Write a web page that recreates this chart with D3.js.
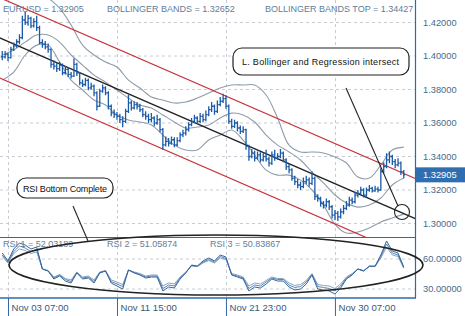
<!DOCTYPE html>
<html><head><meta charset="utf-8">
<script src="https://cdn.jsdelivr.net/npm/d3@7"></script>
<style>body{margin:0;background:#fff}svg{display:block;font-family:"Liberation Sans",Arial,sans-serif}</style>
</head><body><svg id="c" width="465" height="316"></svg>
<script>
// ---------- DATA ----------
const closes=[1.3995,1.4010,1.3990,1.4040,1.4060,1.4085,1.4110,1.4215,1.4200,1.4225,
 1.4180,1.4205,1.4170,1.4080,1.4070,1.4055,1.4040,1.3950,1.3940,1.3925,
 1.3945,1.3900,1.3920,1.3890,1.3880,1.3950,1.3900,1.3840,1.3830,1.3855,
 1.3810,1.3820,1.3780,1.3700,1.3790,1.3810,1.3780,1.3700,1.3660,1.3650,
 1.3640,1.3620,1.3610,1.3670,1.3720,1.3690,1.3710,1.3700,1.3680,1.3650,
 1.3640,1.3620,1.3630,1.3600,1.3620,1.3560,1.3470,1.3490,1.3480,1.3500,
 1.3470,1.3495,1.3530,1.3540,1.3560,1.3590,1.3610,1.3630,1.3610,1.3640,
 1.3620,1.3650,1.3680,1.3700,1.3670,1.3710,1.3730,1.3745,1.3700,1.3610,
 1.3580,1.3600,1.3570,1.3550,1.3560,1.3460,1.3400,1.3420,1.3390,1.3410,
 1.3380,1.3400,1.3385,1.3360,1.3410,1.3390,1.3400,1.3420,1.3380,1.3340,
 1.3320,1.3270,1.3250,1.3230,1.3220,1.3250,1.3260,1.3240,1.3270,1.3160,
 1.3150,1.3120,1.3110,1.3130,1.3100,1.3050,1.3060,1.3040,1.3070,1.3090,
 1.3110,1.3140,1.3130,1.3170,1.3180,1.3200,1.3170,1.3200,1.3210,1.3195,
 1.3205,1.3200,1.3310,1.3340,1.3380,1.3400,1.3370,1.3350,1.3360,1.3310,
 1.32905];
const highs=[1.4030,1.4030,1.4020,1.4055,1.4080,1.4100,1.4130,1.4240,1.4262,1.4245,
 1.4235,1.4225,1.4240,1.4180,1.4100,1.4090,1.4075,1.4045,1.3975,1.3960,
 1.3965,1.3955,1.3940,1.3935,1.3905,1.3985,1.3960,1.3905,1.3860,1.3870,
 1.3865,1.3840,1.3830,1.3790,1.3805,1.3830,1.3820,1.3790,1.3710,1.3680,
 1.3665,1.3655,1.3640,1.3685,1.3770,1.3735,1.3730,1.3725,1.3715,1.3690,
 1.3670,1.3655,1.3660,1.3640,1.3650,1.3630,1.3570,1.3520,1.3510,1.3520,
 1.3515,1.3515,1.3545,1.3560,1.3580,1.3605,1.3630,1.3650,1.3640,1.3660,
 1.3655,1.3675,1.3700,1.3725,1.3710,1.3735,1.3755,1.3775,1.3765,1.3710,
 1.3625,1.3620,1.3610,1.3585,1.3580,1.3565,1.3470,1.3445,1.3435,1.3430,
 1.3425,1.3420,1.3440,1.3400,1.3430,1.3440,1.3420,1.3445,1.3430,1.3390,
 1.3355,1.3330,1.3285,1.3265,1.3250,1.3275,1.3285,1.3275,1.3310,1.3280,
 1.3175,1.3160,1.3135,1.3150,1.3140,1.3110,1.3080,1.3075,1.3090,1.3110,
 1.3135,1.3160,1.3155,1.3190,1.3200,1.3220,1.3210,1.3215,1.3230,1.3220,
 1.3225,1.3220,1.3330,1.3365,1.3420,1.3430,1.3410,1.3385,1.3390,1.3370,
 1.3320];
const lows=[1.3975,1.3985,1.3970,1.3985,1.4030,1.4050,1.4070,1.4100,1.4185,1.4180,
 1.4165,1.4170,1.4150,1.4070,1.4050,1.4040,1.4020,1.3930,1.3920,1.3905,
 1.3910,1.3885,1.3890,1.3875,1.3865,1.3875,1.3880,1.3825,1.3815,1.3820,
 1.3795,1.3800,1.3760,1.3675,1.3695,1.3780,1.3765,1.3680,1.3640,1.3630,
 1.3620,1.3600,1.3575,1.3600,1.3660,1.3675,1.3680,1.3680,1.3665,1.3635,
 1.3620,1.3600,1.3605,1.3580,1.3590,1.3545,1.3440,1.3460,1.3460,1.3470,
 1.3455,1.3460,1.3485,1.3515,1.3525,1.3550,1.3580,1.3600,1.3595,1.3600,
 1.3605,1.3610,1.3640,1.3665,1.3650,1.3660,1.3700,1.3720,1.3685,1.3595,
 1.3565,1.3570,1.3550,1.3535,1.3540,1.3440,1.3375,1.3390,1.3370,1.3380,
 1.3365,1.3370,1.3370,1.3340,1.3350,1.3375,1.3380,1.3390,1.3365,1.3320,
 1.3300,1.3255,1.3230,1.3210,1.3200,1.3210,1.3235,1.3220,1.3230,1.3140,
 1.3130,1.3100,1.3090,1.3095,1.3080,1.3030,1.3020,1.3015,1.3030,1.3055,
 1.3080,1.3100,1.3115,1.3120,1.3155,1.3170,1.3155,1.3160,1.3190,1.3185,
 1.3190,1.3185,1.3195,1.3300,1.3330,1.3360,1.3350,1.3330,1.3340,1.3290,
 1.3270];
// Bollinger bands sampled every 4 bars
const bbStep=4;
const bbUpper=[1.4573,1.4513,1.4453,1.4394,1.4346,1.4286,1.4185,1.4065,1.4006,1.3964,1.3934,1.3856,1.3809,1.3755,1.3737,1.3719,1.3725,1.3749,1.3779,1.3809,1.3827,1.3827,1.3827,1.3767,1.3630,1.3468,1.3427,1.3427,1.3421,1.3397,1.3361,1.3277,1.3271,1.3349,1.3439,1.3456];
const bbMiddle=[1.4006,1.4036,1.4083,1.4125,1.4125,1.4083,1.4006,1.3946,1.3886,1.3844,1.3797,1.3749,1.3707,1.3689,1.3648,1.3606,1.3570,1.3576,1.3588,1.3630,1.3659,1.3648,1.3606,1.3528,1.3468,1.3427,1.3379,1.3307,1.3242,1.3170,1.3122,1.3098,1.3110,1.3152,1.3230,1.3271];
const bbLower=[1.3856,1.3904,1.4006,1.4065,1.4065,1.3964,1.3856,1.3797,1.3737,1.3707,1.3648,1.3618,1.3606,1.3588,1.3528,1.3468,1.3439,1.3439,1.3498,1.3528,1.3558,1.3498,1.3409,1.3319,1.3289,1.3289,1.3259,1.3200,1.3110,1.2995,1.2943,1.2949,1.2973,1.3009,1.3033,1.3056];
// Regression channel (bar index -> price)
const regIdx=[-1,144];
const regMid=[1.4109,1.3029];
const regWidth=0.024;
// RSI sampled every 2 bars
const rsiStep=2;
const rsi1=[66,58,70,76,74,70,72,50,48,40,43,38,36,46,40,41,36,46,48,36,33,30,49,46,44,41,42,42,28,32,31,40,46,54,53,58,61,58,64,62,44,42,40,28,32,31,35,40,38,38,32,29,30,35,44,30,29,28,25,31,40,44,50,48,53,53,64,78,68,66,52.03];
const rsi2=[64,57,67.5,73,71,67.5,69.5,50,48,41,44,39.5,37.5,46.5,41,42,37.5,46.5,48,37.5,35,32.5,49,46.5,44.5,42,43,43,30.5,34,33,41,46.5,53.5,52.5,57,59.5,57,62.5,60.5,44.5,43,41,30.5,34,33,37,41,39.5,39.5,34,31.5,32.5,37,44.5,32.5,31.5,30.5,28,33,41,44.5,50,48,52.5,52.5,62.5,75,66,64,51.06];
const rsi3=[62.5,56,65.5,70,68.5,65.5,67,50,48.5,42,44.5,40.5,39,47,42,43,39,47,48.5,39,37,34.5,49,47,45.5,43,44,44,33,36,35,42,47,53,52.5,56,58.5,56,61,59.5,45.5,44,42,33,36,35,38.5,42,40.5,40.5,36,33.5,34.5,38.5,45.5,34.5,33.5,33,30.5,35,42,45.5,50,48.5,52.5,52.5,61,72,64,62.5,50.84];
const priceTicks=[1.30,1.32,1.34,1.36,1.38,1.40,1.42];
const rsiTicks=[30,60];
const timeTickIdx=[2,40,78,116];
const timeTickLabels=["Nov 03 07:00","Nov 11 15:00","Nov 21 23:00","Nov 30 07:00"];
const headerLabels=["EURUSD = 1.32905","BOLLINGER BANDS = 1.32652","BOLLINGER BANDS TOP = 1.34427"];
const rsiLabels=["RSI 1 = 52.03189","RSI 2 = 51.05874","RSI 3 = 50.83867"];
const lastPrice=1.32905;
const noteA="L. Bollinger and Regression intersect";
const noteB="RSI Bottom Complete";

// ---------- LAYOUT ----------
const W=465,H=316, PR=415, MT=0, MB=237.5, RT=238, RB=298;
const svg=d3.select("#c");
const x=d3.scaleLinear().domain([0,140]).range([2.26,403.78]);
const y=d3.scaleLinear().domain([1.30,1.42]).range([223.5,22.5]);
const yr=d3.scaleLinear().domain([30,60]).range([289,259]);
const gridC="#c8ccd2", axisC="#2e6aa8", textC="#4a6a8a";

const defs=svg.append("defs");
defs.append("clipPath").attr("id","cm").append("rect").attr("x",0).attr("y",MT).attr("width",PR).attr("height",MB-MT);
defs.append("clipPath").attr("id","cr").append("rect").attr("x",0).attr("y",RT).attr("width",PR).attr("height",RB-RT);

// grid
const g=svg.append("g");
g.selectAll(".hg").data(priceTicks).join("line").attr("x1",0).attr("x2",PR)
 .attr("y1",d=>y(d)).attr("y2",d=>y(d)).attr("stroke",gridC).attr("stroke-dasharray","3,3");
g.selectAll(".hr").data(rsiTicks).join("line").attr("x1",0).attr("x2",PR)
 .attr("y1",d=>yr(d)).attr("y2",d=>yr(d)).attr("stroke",gridC).attr("stroke-dasharray","3,3");
g.selectAll(".vg").data(timeTickIdx).join("line").attr("x1",d=>Math.round(x(d))+0.5).attr("x2",d=>Math.round(x(d))+0.5)
 .attr("y1",0).attr("y2",RB).attr("stroke",gridC).attr("stroke-dasharray","3,3");

// main panel content
const m=svg.append("g").attr("clip-path","url(#cm)");
const bandLine=d3.line().x((d,i)=>x(i*bbStep)).y(d=>y(d)).curve(d3.curveCatmullRom);
[bbUpper,bbMiddle,bbLower].forEach(a=>{
  m.append("path").attr("d",bandLine(a)).attr("fill","none").attr("stroke","#8e9cab").attr("stroke-width",1.1);
});
// regression channel
const regLine=off=>d3.line().x((d,i)=>x(regIdx[i])).y(d=>y(d+off))(regMid);
m.append("path").attr("d",regLine(regWidth)).attr("stroke","#c8323c").attr("stroke-width",1.2).attr("fill","none");
m.append("path").attr("d",regLine(-regWidth)).attr("stroke","#c8323c").attr("stroke-width",1.2).attr("fill","none");
m.append("path").attr("d",regLine(0)).attr("stroke","#222").attr("stroke-width",1.3).attr("fill","none");
// OHLC bars
const bars=m.append("g").attr("stroke","#1b5aa6").attr("stroke-width",1.3);
closes.forEach((c,i)=>{
  const xi=x(i), o=i>0?closes[i-1]:c;
  bars.append("line").attr("x1",xi).attr("x2",xi).attr("y1",y(highs[i])).attr("y2",y(lows[i]));
  bars.append("line").attr("x1",xi).attr("x2",xi+1.4).attr("y1",y(c)).attr("y2",y(c));
  bars.append("line").attr("x1",xi-1.4).attr("x2",xi).attr("y1",y(o)).attr("y2",y(o));
});

// RSI panel
const r=svg.append("g").attr("clip-path","url(#cr)");
const rsiLine=d3.line().x((d,i)=>x(i*rsiStep)).y(d=>yr(d));
[[rsi3,"#8aa4bf"],[rsi2,"#5d86b0"],[rsi1,"#2f65a0"]].forEach(([a,c])=>{
  r.append("path").attr("d",rsiLine(a)).attr("fill","none").attr("stroke",c).attr("stroke-width",1);
});

// axes lines
svg.append("line").attr("x1",PR+0.5).attr("x2",PR+0.5).attr("y1",0).attr("y2",RB).attr("stroke",axisC).attr("stroke-width",1.2);
svg.append("line").attr("x1",0).attr("x2",PR).attr("y1",MB).attr("y2",MB).attr("stroke",axisC).attr("stroke-width",1.2);
svg.append("line").attr("x1",0).attr("x2",PR+1).attr("y1",RB).attr("y2",RB).attr("stroke",axisC).attr("stroke-width",1.4);

// right price axis
const ra=svg.append("g").attr("transform",`translate(${PR},0)`)
 .call(d3.axisRight(y).tickValues(priceTicks).tickSize(0).tickPadding(8).tickFormat(d3.format(".5f")));
ra.select(".domain").remove();
ra.selectAll("text").attr("fill",textC).attr("font-size",9.3).attr("font-family","Liberation Sans, Arial");
const rra=svg.append("g").attr("transform",`translate(${PR},0)`)
 .call(d3.axisRight(yr).tickValues(rsiTicks).tickSize(0).tickPadding(8).tickFormat(d3.format(".5f")));
rra.select(".domain").remove();
rra.selectAll("text").attr("fill",textC).attr("font-size",9.3).attr("font-family","Liberation Sans, Arial");

// bottom time axis
const xa=svg.append("g").attr("transform",`translate(0,${RB})`)
 .call(d3.axisBottom(x).tickValues(timeTickIdx).tickSize(18).tickPadding(-12).tickFormat((d,i)=>timeTickLabels[i]));
xa.select(".domain").remove();
xa.selectAll(".tick line").attr("stroke",axisC).attr("stroke-width",1);
xa.selectAll("text").attr("text-anchor","start").attr("dx",3).attr("fill","#3a5878").attr("font-size",9.6).attr("font-family","Liberation Sans, Arial");

// last price marker
svg.append("rect").attr("x",PR+1).attr("y",y(lastPrice)-7.5).attr("width",W-PR-1).attr("height",15).attr("fill","#2f6eb0");
svg.append("text").attr("x",PR+8).attr("y",y(lastPrice)+3.5).text(d3.format(".5f")(lastPrice))
 .attr("fill","#fff").attr("font-size",9.3);

// header labels
const hx=[3,107,265];
headerLabels.forEach((t,i)=>svg.append("text").attr("x",hx[i]).attr("y",12).text(t).attr("fill","#5f7d99").attr("font-size",9));
const rx=[3,107,210];
rsiLabels.forEach((t,i)=>svg.append("text").attr("x",rx[i]).attr("y",247).text(t).attr("fill","#5f7d99").attr("font-size",9));

// annotations
const ann=svg.append("g").attr("fill","none").attr("stroke","#222");
ann.append("rect").attr("x",233).attr("y",48).attr("width",176).attr("height",27).attr("rx",9).attr("fill","#fff").attr("stroke-width",1.2);
svg.append("text").attr("x",242).attr("y",65).text(noteA).attr("fill","#111").attr("font-size",9).attr("textLength",157);
ann.append("line").attr("x1",346).attr("y1",88).attr("x2",398).attr("y2",206).attr("stroke-width",1.1);
ann.append("circle").attr("cx",402).attr("cy",212).attr("r",7.5).attr("stroke-width",1.1);
ann.append("rect").attr("x",17).attr("y",178).attr("width",96).attr("height",20).attr("rx",9).attr("fill","#fff").attr("stroke-width",1.2);
svg.append("text").attr("x",23).attr("y",192).text(noteB).attr("fill","#111").attr("font-size",9).attr("textLength",84);
ann.append("line").attr("x1",73).attr("y1",206).attr("x2",88).attr("y2",241).attr("stroke-width",1.1);
ann.append("ellipse").attr("cx",216).attr("cy",265).attr("rx",207).attr("ry",30).attr("stroke-width",1.6);
</script></body></html>
